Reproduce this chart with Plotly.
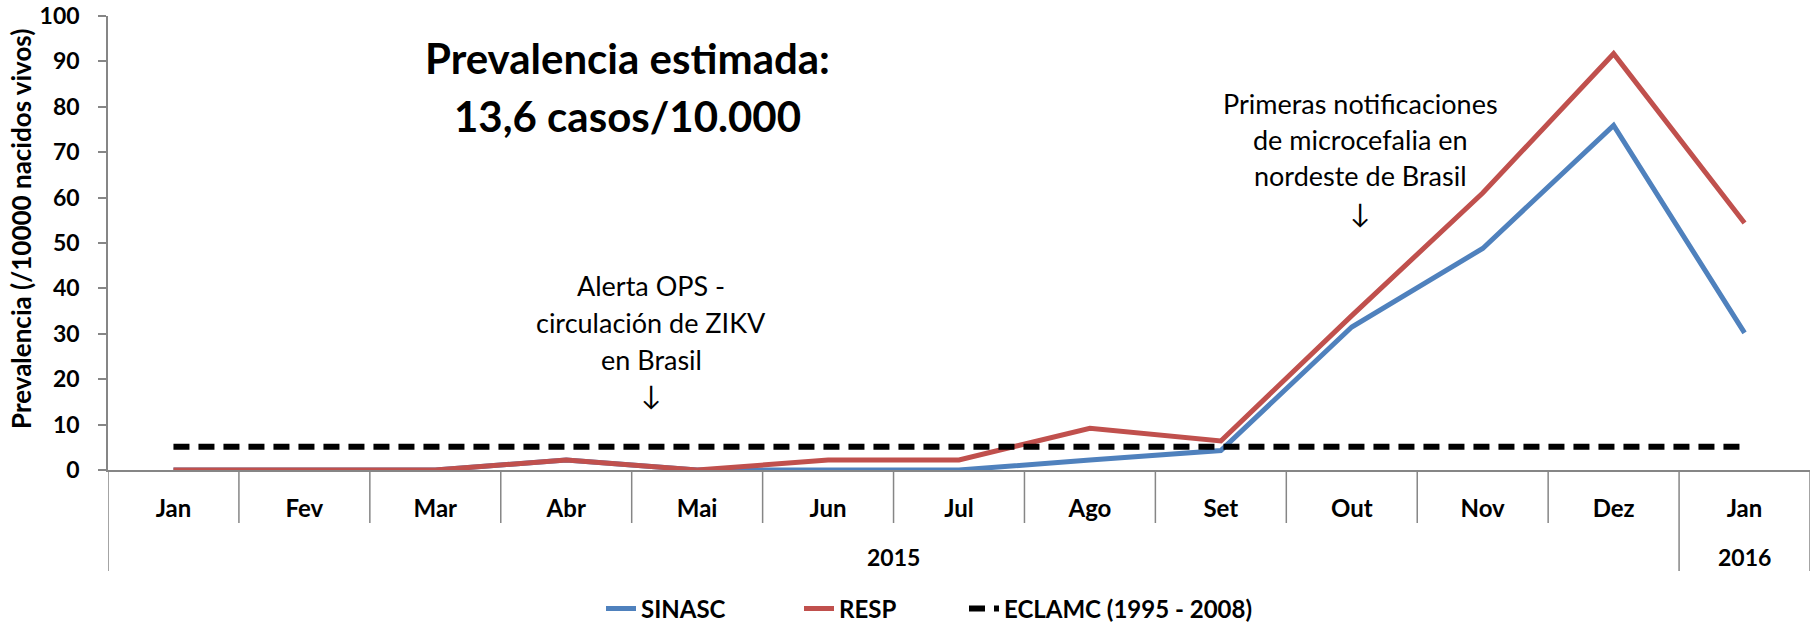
import plotly.graph_objects as go

months = ["Jan", "Fev", "Mar", "Abr", "Mai", "Jun", "Jul", "Ago", "Set", "Out", "Nov", "Dez", "Jan"]
years = ["2015", "2016"]
year_spans = [(0, 11), (12, 12)]
sinasc = [0, 0, 0, 2.2, 0, 0, 0, 2.2, 4.3, 31.5, 48.8, 75.9, 30.2]
resp = [0, 0, 0, 2.2, 0, 2.2, 2.2, 9.2, 6.4, 34.0, 61.0, 91.7, 54.4]
eclamc = [5.1] * 13

x = list(range(len(months)))
FONT = "Lato"
GRAY = "#868686"
W, H = 1816, 628

# plot area in px
pl, pr, pt, pb = 108, 1810, 16, 470
ph = pb - pt
pw = pr - pl
ncat = len(months)

def py(sy):
    return (pb - sy) / ph

def px_to_x(sx):
    return (sx - pl) / pw * ncat - 0.5

def px_to_paper(sx):
    return (sx - pl) / pw

fig = go.Figure()
fig.add_trace(go.Scatter(x=x, y=sinasc, mode="lines", name="SINASC", legend="legend",
                         line=dict(color="#4F81BD", width=5)))
fig.add_trace(go.Scatter(x=x, y=resp, mode="lines", name="RESP", legend="legend2",
                         line=dict(color="#C0504D", width=5)))
fig.add_trace(go.Scatter(x=x, y=eclamc, mode="lines", name="ECLAMC (1995 - 2008)", legend="legend3",
                         line=dict(color="#000000", width=6, dash="16px,9px")))

shapes = []
for k in range(ncat - 1):
    b = k + 0.5
    if any(b == e + 0.5 for _, e in year_spans[:-1]):
        continue
    shapes.append(dict(type="line", xref="x", yref="paper", x0=b, x1=b, y0=0, y1=py(523),
                       line=dict(color=GRAY, width=1.5)))
bounds = [-0.5] + [e + 0.5 for _, e in year_spans]
for b in bounds:
    shapes.append(dict(type="line", xref="x", yref="paper", x0=b, x1=b, y0=0, y1=py(571),
                       line=dict(color=GRAY, width=1.5)))

annotations = []
for yr, (s, e) in zip(years, year_spans):
    annotations.append(dict(x=(s + e) / 2, y=py(557), xref="x", yref="paper", text=yr,
                            showarrow=False, yanchor="middle",
                            font=dict(family=FONT, size=23, color="black", weight="bold")))

annotations.append(dict(x=px_to_paper(3), y=py(229), xref="paper", yref="paper", textangle=-90,
                        xanchor="left", yanchor="middle",
                        text="Prevalencia (/10000 nacidos vivos)", showarrow=False,
                        font=dict(family=FONT, size=26, color="black", weight="bold")))

title_lines = ["Prevalencia estimada:", "13,6 casos/10.000"]
title_px = [58, 116]
for t, yy in zip(title_lines, title_px):
    annotations.append(dict(x=px_to_x(627), y=py(yy), xref="x", yref="paper", text=t,
                            showarrow=False, yanchor="middle",
                            font=dict(family=FONT, size=42, color="black", weight="bold")))

ops_lines = ["Alerta OPS -", "circulación de ZIKV", "en Brasil", "↓"]
ops_px = [285, 322, 359, 394]
for t, yy in zip(ops_lines, ops_px):
    annotations.append(dict(x=px_to_x(651), y=py(yy), xref="x", yref="paper", text=t,
                            showarrow=False, yanchor="middle",
                            font=dict(family=FONT, size=27, color="black")))

nord_lines = ["Primeras notificaciones", "de microcefalia en", "nordeste de Brasil", "↓"]
nord_px = [104, 139, 176, 212]
for t, yy in zip(nord_lines, nord_px):
    annotations.append(dict(x=px_to_x(1360), y=py(yy), xref="x", yref="paper", text=t,
                            showarrow=False, yanchor="middle",
                            font=dict(family=FONT, size=27, color="black")))

legend_font = dict(family=FONT, size=24, color="black", weight="bold")
legend_text_x = [643, 841, 1006]
def legend_at(tx):
    return dict(orientation="h", x=px_to_paper(tx - 42), xanchor="left", yref="container",
                y=(H - 609) / H, yanchor="middle", font=legend_font, bgcolor="rgba(0,0,0,0)")

fig.update_layout(
    width=W, height=H,
    margin=dict(l=pl, r=W - pr, t=pt, b=H - pb, autoexpand=False),
    plot_bgcolor="white", paper_bgcolor="white",
    showlegend=True,
    legend=legend_at(legend_text_x[0]),
    legend2=legend_at(legend_text_x[1]),
    legend3=legend_at(legend_text_x[2]),
    shapes=shapes,
    annotations=annotations,
    xaxis=dict(range=[-0.5, ncat - 0.5], tickvals=x, ticktext=months,
               showline=True, linecolor=GRAY, linewidth=1.5, ticks="",
               showgrid=False, zeroline=False, ticklabelstandoff=16, automargin=False,
               tickfont=dict(family=FONT, size=24, color="black", weight="bold")),
    yaxis=dict(range=[0, 100], dtick=10, showline=True, linecolor=GRAY, linewidth=1.5,
               ticks="outside", ticklen=8, tickcolor=GRAY, tickwidth=1.5,
               showgrid=False, zeroline=False, automargin=False, ticklabelstandoff=14,
               tickfont=dict(family=FONT, size=23, color="black", weight="bold")),
)

# remove the default 8px page margin so the figure sits at the window's top-left corner
fig.write_html("out.html", config={"displayModeBar": False},
               post_script="document.body.style.margin='0';")
